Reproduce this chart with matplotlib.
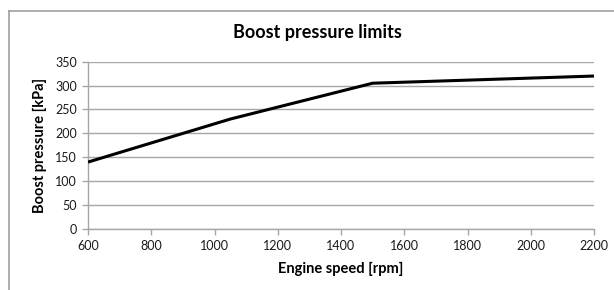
import matplotlib
matplotlib.use("Agg")
import matplotlib.pyplot as plt
from matplotlib.lines import Line2D

engine_speed = [600, 1050, 1500, 2200]
boost_pressure = [140, 230, 305, 320]
x_ticks = [600, 800, 1000, 1200, 1400, 1600, 1800, 2000, 2200]
y_ticks = [0, 50, 100, 150, 200, 250, 300, 350]

plt.rcParams['font.family'] = ['Lato', 'DejaVu Sans']

fig = plt.figure(figsize=(6.14, 2.9), dpi=100)
ax = fig.add_axes([88/614, 1-229/290, (594-88)/614, (229-61.7)/290])

grid_c = '#a6a6a6'
ax.plot(engine_speed, boost_pressure, color='black', lw=2.2, solid_capstyle='butt', zorder=3)
ax.set_xlim(600, 2200)
ax.set_ylim(0, 350)
ax.set_xticks(x_ticks)
ax.set_yticks(y_ticks)
ax.set_xticklabels([str(v) for v in x_ticks])
ax.grid(axis='y', color=grid_c, lw=1.0)
ax.set_axisbelow(True)
for s in ['top', 'right']:
    ax.spines[s].set_visible(False)
for s in ['left', 'bottom']:
    ax.spines[s].set_color(grid_c)
    ax.spines[s].set_linewidth(1.0)
ax.tick_params(axis='both', direction='out', length=4, width=1, color=grid_c,
               labelsize=9, labelcolor='#1a1a1a', pad=4)

ax.set_xlabel('Engine speed [rpm]', fontsize=10.5, fontweight='bold')
ax.set_ylabel('Boost pressure [kPa]', fontsize=10.5, fontweight='bold')
ax.xaxis.set_label_coords(0.5, -(269-229)/(229-61.7), transform=ax.transAxes)
ax.xaxis.label.set_va('center')
ax.yaxis.set_label_coords(-(88-40)/(594-88), 0.5, transform=ax.transAxes)
ax.yaxis.label.set_va('center')
fig.text(317/614, 1-32.5/290, 'Boost pressure limits', ha='center', va='center',
         fontsize=13, fontweight='bold')

# outer chart frame
x0 = 9/614
y0 = 1-11/290
fig.add_artist(Line2D([x0, x0], [0, y0], color='#a0a0a0', lw=1.2, transform=fig.transFigure))
fig.add_artist(Line2D([x0, 1], [y0, y0], color='#a0a0a0', lw=1.2, transform=fig.transFigure))

fig.savefig('out.png', dpi=100)
